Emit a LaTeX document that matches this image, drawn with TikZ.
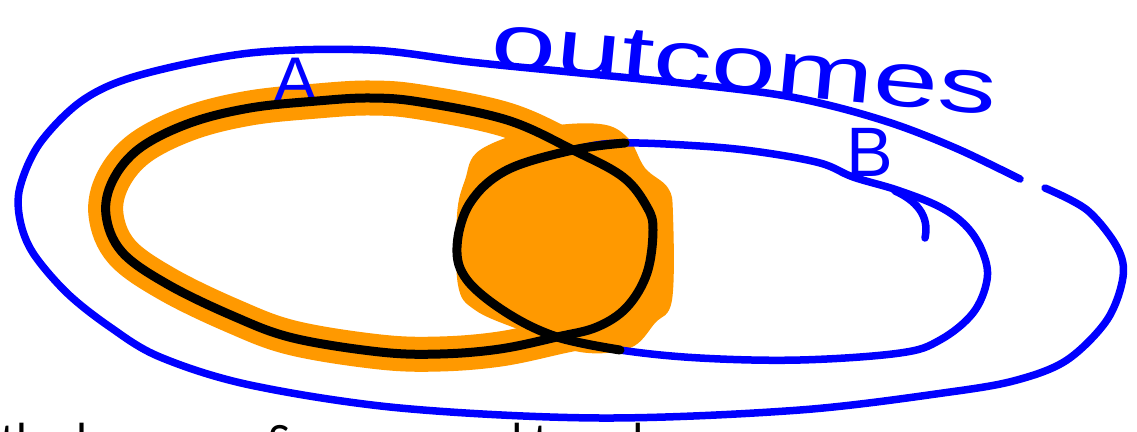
\documentclass[tikz,border=0pt]{standalone}
\usepackage{fontspec}
\setmainfont{Liberation Sans}
\newfontfamily\bottomfont{Carlito}
\definecolor{penblue}{RGB}{0,0,255}
\definecolor{hlorange}{RGB}{255,153,0}
\begin{document}
\begin{tikzpicture}[x=1pt,y=-1pt,
  bluepen/.style={draw=penblue, line width=7.5pt, line cap=round, line join=round},
  blackpen/.style={draw=black, line width=9pt, line cap=round, line join=round},
  orangeband/.style={draw=hlorange, line width=35pt, line join=round},
  orangefill/.style={fill=hlorange, draw=none},
  handtext/.style={text=penblue, inner sep=0pt},
  cuttext/.style={text=black, inner sep=0pt, font=\bottomfont\fontsize{48}{52}\selectfont}]
\useasboundingbox (0,0) rectangle (1137,431);
\clip (0,0) rectangle (1137,431);
\fill[white] (0,0) rectangle (1137,431);

% orange highlight of A and of the overlap
\draw[orangeband] plot[smooth cycle, tension=0.6] coordinates {
  (106,215) (122,252) (167,284) (233,316) (293,338) (380,352) (440,354)
  (500,349) (557,337) (597,327) (627,307) (647,273) (653,230) (647,207)
  (623,177) (573,150) (507,120) (420,102) (370,98) (317,101) (250,108)
  (190,123) (140,148) (113,180)};
\fill[orangefill] plot[smooth cycle, tension=0.6] coordinates {
  (480,150) (540,128) (600,124) (628,138) (645,168) (668,188) (673,215)
  (672,300) (655,323) (630,348) (580,352) (520,330) (475,310) (458,285)
  (457,215) (465,180)};

% outer set: outcomes
\draw[bluepen] plot[smooth, tension=0.55] coordinates {
  (1020,179) (960,150) (900,126) (840,108) (780,95) (700,85) (580,73)
  (470,62) (370,50) (250,53) (140,75) (83,100) (40,143) (20,187)
  (20,220) (33,253) (67,293) (110,327) (160,357) (250,385) (400,408)
  (600,418) (800,410) (950,392) (1017,380) (1067,360) (1107,320)
  (1123,277) (1117,247) (1087,210) (1045,188)};

% set B
\draw[bluepen] plot[smooth cycle, tension=0.6] coordinates {
  (620,143) (700,146) (760,152) (820,163) (853,177) (897,190) (940,207)
  (967,227) (983,253) (987,280) (973,313) (940,340) (900,353) (800,360)
  (700,358) (620,350) (557,337) (507,313) (467,280) (457,247) (470,203)
  (507,170) (573,150)};
\coordinate (hookstart) at (895,191);
\coordinate (hookend) at (925,238);
\draw[bluepen] (hookstart) .. controls (915,200) and (930,215) .. (hookend);

% labels
\node[handtext, anchor=base, font=\fontsize{66}{70}\selectfont] (labelA) at (296,103) {A};
\node[handtext, anchor=base, font=\fontsize{70}{75}\selectfont] (labelB) at (870,176) {B};
\node[handtext, anchor=base, rotate=-5.5, xscale=1.5,
      font=\fontsize{78}{85}\selectfont] (outcomes) at (742,91) {outcomes};

% set A (black) and traced overlap boundary
\draw[blackpen] plot[smooth cycle, tension=0.6] coordinates {
  (106,215) (122,252) (167,284) (233,316) (293,338) (380,352) (440,354)
  (500,349) (557,337) (597,327) (627,307) (647,273) (653,230) (647,207)
  (623,177) (573,150) (507,120) (420,102) (370,98) (317,101) (250,108)
  (190,123) (140,148) (113,180)};
\draw[blackpen] plot[smooth, tension=0.6] coordinates {
  (625,143) (573,150) (507,170) (470,203) (457,247) (467,280) (507,313)
  (557,337) (620,350)};

% cut-off text line at the bottom
\node[cuttext, anchor=base west] (bottomline) at (0,456) {the large one S covers, and to a degree};
\end{tikzpicture}
\end{document}
